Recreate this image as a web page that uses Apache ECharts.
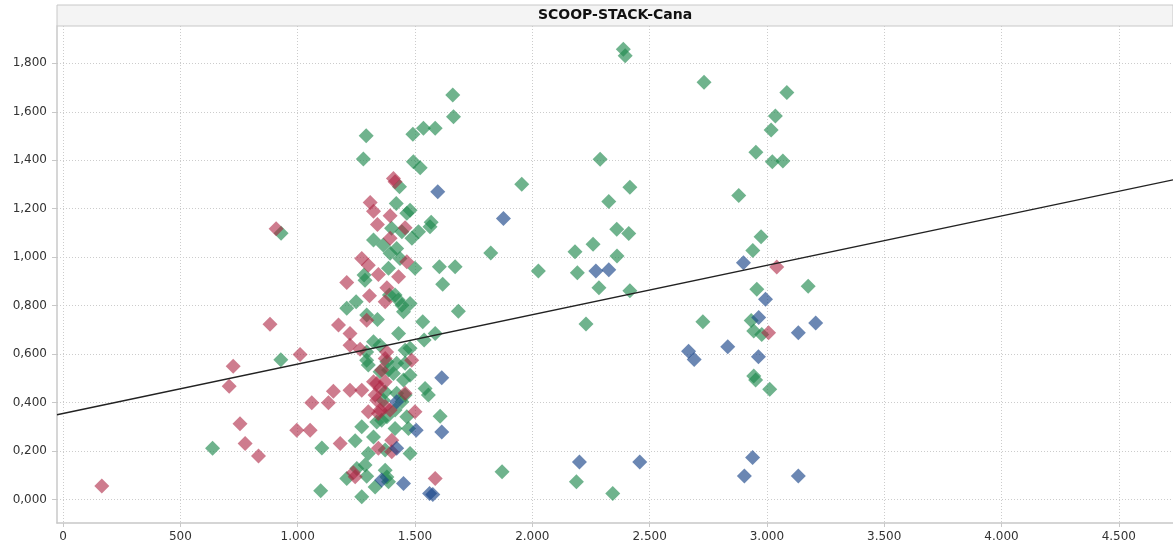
<!DOCTYPE html>
<html>
<head>
<meta charset="utf-8">
<title>SCOOP-STACK-Cana</title>
<script src="https://cdn.jsdelivr.net/npm/echarts@6/dist/echarts.min.js"></script>
<style>
  html, body { margin: 0; padding: 0; background: #ffffff; }
  #chart { width: 1173px; height: 550px; }
</style>
</head>
<body>
<div id="chart"></div>
<script>
const TITLE = 'SCOOP-STACK-Cana';

// Tick positions for both axes
const X_TICKS = [0, 500, 1000, 1500, 2000, 2500, 3000, 3500, 4000, 4500];
const Y_TICKS = [0, 0.2, 0.4, 0.6, 0.8, 1.0, 1.2, 1.4, 1.6, 1.8];
const X_RANGE = [-26, 4731];
const Y_RANGE = [-0.097, 1.954];

// Linear trend line
const TREND_INTERCEPT = 0.355;
const TREND_SLOPE = 0.0002038;

// Green wells
const greenPoints = [
  [2388, 1.858], [2396, 1.831], [2732, 1.722], [3085, 1.680], [3036, 1.583],
  [3018, 1.525], [2953, 1.433], [3023, 1.394], [3068, 1.397], [2289, 1.404],
  [1955, 1.301], [2416, 1.289], [2880, 1.254], [2326, 1.230], [2360, 1.115],
  [2411, 1.098], [2975, 1.084], [2940, 1.028], [1823, 1.017], [2182, 1.022],
  [2259, 1.053], [2361, 1.005], [2026, 0.943], [2192, 0.936], [2284, 0.874],
  [2416, 0.861], [2957, 0.868], [2229, 0.724], [2727, 0.733], [2933, 0.739],
  [2944, 0.695], [2978, 0.681], [2944, 0.510], [2952, 0.493], [3012, 0.455],
  [1871, 0.114], [2188, 0.073], [2343, 0.025], [3176, 0.880],
  [637, 0.211], [929, 1.099], [928, 0.577], [1098, 0.036], [1103, 0.213],
  [1661, 1.669], [1664, 1.580], [1292, 1.501], [1491, 1.507], [1536, 1.532],
  [1586, 1.532], [1280, 1.405], [1493, 1.394], [1522, 1.369], [1434, 1.291],
  [1420, 1.222], [1479, 1.194], [1465, 1.181], [1569, 1.144], [1400, 1.119],
  [1444, 1.105], [1515, 1.105], [1564, 1.126], [1487, 1.078],
  [1323, 1.071], [1365, 1.050], [1422, 1.036], [1394, 1.016], [1436, 0.995],
  [1387, 0.954], [1500, 0.954], [1604, 0.960], [1671, 0.960], [1618, 0.888],
  [1283, 0.926], [1287, 0.905], [1391, 0.844], [1415, 0.844], [1429, 0.823],
  [1444, 0.802], [1479, 0.809], [1451, 0.775], [1249, 0.816], [1209, 0.789],
  [1685, 0.777], [1294, 0.761], [1340, 0.743], [1533, 0.733], [1430, 0.685],
  [1539, 0.658], [1586, 0.685], [1323, 0.651], [1351, 0.637], [1294, 0.609],
  [1458, 0.616], [1479, 0.624], [1294, 0.575], [1301, 0.555],
  [1458, 0.562], [1422, 0.562], [1380, 0.568], [1387, 0.534], [1408, 0.520],
  [1479, 0.513], [1351, 0.527], [1451, 0.493], [1543, 0.458], [1557, 0.431],
  [1373, 0.444], [1365, 0.410], [1422, 0.438], [1458, 0.431], [1444, 0.403],
  [1358, 0.327], [1380, 0.341], [1465, 0.341], [1415, 0.293], [1472, 0.293],
  [1607, 0.344], [1415, 0.369], [1337, 0.320], [1273, 0.300], [1245, 0.242],
  [1323, 0.258], [1301, 0.190], [1479, 0.190], [1373, 0.204], [1287, 0.142],
  [1252, 0.128], [1209, 0.087], [1294, 0.096], [1373, 0.121], [1380, 0.093],
  [1330, 0.052], [1387, 0.073], [1273, 0.011]
];

// Red wells
const redPoints = [
  [165, 0.056], [754, 0.313], [776, 0.231], [833, 0.180], [708, 0.467],
  [725, 0.550], [882, 0.723], [908, 1.117], [1010, 0.598], [996, 0.286],
  [1053, 0.286], [1060, 0.399], [1131, 0.399], [1181, 0.231], [3042, 0.959],
  [3007, 0.688],
  [1408, 1.325], [1415, 1.311], [1309, 1.226], [1323, 1.190], [1394, 1.171],
  [1340, 1.135], [1458, 1.121], [1394, 1.078], [1273, 0.995], [1301, 0.967],
  [1465, 0.981], [1209, 0.896], [1344, 0.929], [1430, 0.919], [1380, 0.874],
  [1373, 0.816], [1306, 0.841], [1174, 0.720], [1294, 0.740], [1223, 0.685],
  [1223, 0.637], [1266, 0.620], [1379, 0.609], [1373, 0.582], [1486, 0.575],
  [1358, 0.534], [1152, 0.447], [1223, 0.451], [1273, 0.451], [1323, 0.486],
  [1337, 0.479], [1373, 0.486], [1351, 0.458], [1330, 0.431], [1337, 0.410],
  [1458, 0.438], [1301, 0.362], [1344, 0.355], [1373, 0.384], [1394, 0.369],
  [1351, 0.369], [1500, 0.362], [1401, 0.244], [1344, 0.211], [1401, 0.197],
  [1245, 0.094], [1237, 0.110], [1586, 0.087]
];

// Blue wells
const bluePoints = [
  [1877, 1.160], [2900, 0.977], [2271, 0.943], [2326, 0.948], [2994, 0.826],
  [2965, 0.751], [3134, 0.688], [3208, 0.728], [2666, 0.612], [2690, 0.578],
  [2833, 0.630], [2964, 0.589], [2201, 0.155], [2458, 0.155], [2939, 0.173],
  [2904, 0.097], [3134, 0.097], [1597, 1.270], [1614, 0.502], [1505, 0.286],
  [1614, 0.279], [1422, 0.211], [1358, 0.080], [1451, 0.066], [1562, 0.025],
  [1576, 0.021], [1422, 0.403]
];

const COLORS = {
  green: 'rgba(29,136,76,0.8)',
  red: 'rgba(174,36,67,0.75)',
  blue: 'rgba(24,68,136,0.8)'
};

const fmtX = v => String(Math.round(v)).replace(/\B(?=(\d{3})+(?!\d))/g, '.');
const fmtY = v => v.toFixed(3).replace('.', ',');

const GRID = { left: 57, right: 0, top: 26, bottom: 27 };
const labelFont = { fontFamily: 'DejaVu Sans, Verdana, sans-serif', fontSize: 12, color: '#333' };
const gridLine = { color: '#cccccc', type: [1, 2], width: 1 };

function scatter(name, data, color) {
  return {
    name, type: 'scatter', data,
    symbol: 'diamond', symbolSize: 15,
    itemStyle: { color },
    emphasis: { disabled: true },
    z: 3
  };
}

const chart = echarts.init(document.getElementById('chart'), null, { renderer: 'canvas' });
chart.setOption({
  animation: false,
  backgroundColor: '#ffffff',
  grid: GRID,
  graphic: [
    {
      type: 'rect', x: 57, y: 5,
      shape: { x: 0, y: 0, width: 1116, height: 21 },
      style: { fill: '#f4f4f4', stroke: '#c8c8c8', lineWidth: 1 },
      z: 10
    },
    {
      type: 'text', x: 615, y: 8,
      style: {
        text: TITLE, fill: '#111', align: 'center', textAlign: 'center',
        font: 'bold 14px "DejaVu Sans", Verdana, sans-serif'
      },
      z: 11
    }
  ],
  xAxis: {
    type: 'value', min: X_RANGE[0], max: X_RANGE[1],
    axisLine: { show: true, onZero: false, lineStyle: { color: '#c8c8c8', width: 1.5 } },
    axisTick: { show: true, length: 4, customValues: X_TICKS, lineStyle: { color: '#c8c8c8' } },
    axisLabel: { ...labelFont, customValues: X_TICKS, formatter: fmtX, margin: 8 },
    splitLine: { show: true, lineStyle: gridLine }
  },
  yAxis: {
    type: 'value', min: Y_RANGE[0], max: Y_RANGE[1],
    axisLine: { show: true, onZero: false, lineStyle: { color: '#c8c8c8', width: 1.5 } },
    axisTick: { show: true, length: 5, customValues: Y_TICKS, lineStyle: { color: '#c8c8c8' } },
    axisLabel: { ...labelFont, customValues: Y_TICKS, formatter: fmtY, margin: 10 },
    splitLine: { show: true, lineStyle: gridLine }
  },
  series: [
    scatter('green', greenPoints, COLORS.green),
    scatter('red', redPoints, COLORS.red),
    scatter('blue', bluePoints, COLORS.blue),
    {
      name: 'trend', type: 'line', symbol: 'none', silent: true,
      data: [
        [X_RANGE[0], TREND_INTERCEPT + TREND_SLOPE * X_RANGE[0]],
        [X_RANGE[1], TREND_INTERCEPT + TREND_SLOPE * X_RANGE[1]]
      ],
      lineStyle: { color: '#222', width: 1.3 },
      z: 4
    }
  ]
});
</script>
</body>
</html>
